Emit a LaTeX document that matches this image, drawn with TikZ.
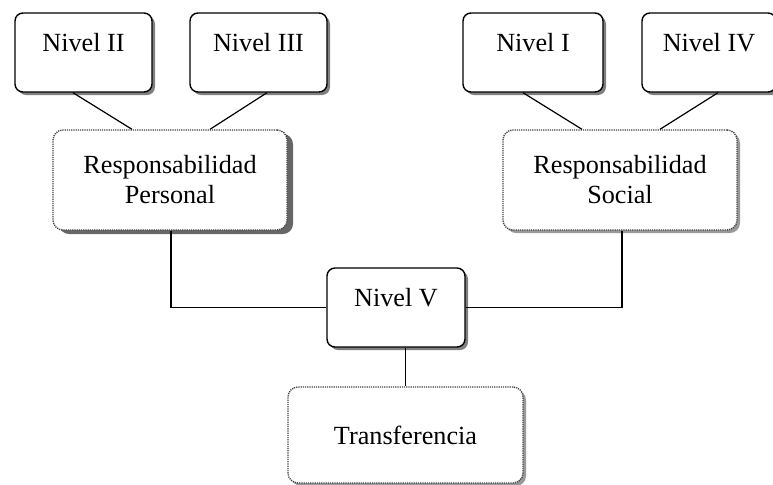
\documentclass[tikz,border=0pt]{standalone}
\usepackage{fontspec}
\setmainfont{Liberation Serif}
\usepackage{tikz}
\usetikzlibrary{shadows}

\begin{document}
\begin{tikzpicture}
    [x=0.5pt,y=0.5pt,line width=0.6pt,font=\fontsize{13.1}{15}\selectfont,
        level node/.style={rectangle,rounded corners=4pt,draw,line width=0.7pt,fill=white,
            minimum width=68.5pt,minimum height=39.5pt,text height=8pt,text depth=9pt,
            drop shadow={shadow xshift=1.5pt,shadow yshift=-1.5pt,fill=black!50,opacity=1}},
        dot node/.style={rectangle,rounded corners=5pt,draw=black!75,line width=0.7pt,
            dash pattern=on 0.6pt off 0.5pt,fill=white,
            minimum width=117pt,minimum height=50pt,align=center},
        soft shadow/.style={drop shadow={shadow xshift=1.5pt,shadow yshift=-1.5pt,fill=black!40,opacity=1}},
        hard shadow/.style={drop shadow={shadow xshift=3pt,shadow yshift=-2pt,fill=black!60,opacity=1}}]

    \useasboundingbox (0,0) rectangle (773,-484);

    \node[level node] (n2) at (83.5,-52.5) {Nivel II};
    \node[level node] (n3) at (258.5,-52.5) {Nivel III};
    \node[level node, minimum width=70pt] (n1) at (533,-52.5) {Nivel I};
    \node[level node, minimum width=67pt] (n4) at (709,-52.5) {Nivel IV};

    \node[dot node, hard shadow] (rp) at (170,-180) {Responsabilidad\\Personal};
    \node[dot node, soft shadow] (rs) at (620,-180) {Responsabilidad\\Social};

    \node[level node, minimum width=69pt] (nv) at (396,-307.5) {Nivel V};
    \node[dot node, soft shadow, minimum width=117.5pt, minimum height=48pt] (tr) at (405.5,-435) {Transferencia};

    \draw ([xshift=-5.25pt]n2.south) -- ([xshift=-19pt]rp.north);
    \draw ([xshift=4.25pt]n3.south) -- ([xshift=20pt]rp.north);
    \draw ([xshift=-5pt]n1.south) -- ([xshift=-19pt]rs.north);
    \draw ([xshift=4.5pt]n4.south) -- ([xshift=20pt]rs.north);

    \draw ([xshift=0.5pt]rp.south) |- (nv.west);
    \draw ([xshift=1pt]rs.south) |- (nv.east);
    \draw (tr.north) -- (tr.north |- nv.south);
\end{tikzpicture}
\end{document}
